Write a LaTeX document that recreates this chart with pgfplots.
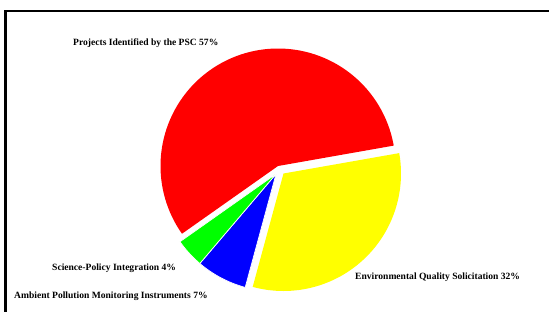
\documentclass[border=0pt]{standalone}
\usepackage{fontspec}
\setmainfont{Liberation Serif}
\usepackage{pgfplots}
\pgfplotsset{compat=1.18}
\definecolor{pieRed}{RGB}{255,0,0}
\definecolor{pieYellow}{RGB}{255,255,0}
\definecolor{pieBlue}{RGB}{0,0,255}
\definecolor{pieGreen}{RGB}{0,255,0}
% slice shares (percent), clockwise from the start angle
\def\vR{57}\def\vY{32}\def\vB{7}\def\vG{4}
\def\startangle{215.2}
\def\rad{117.5}
\pgfmathsetmacro{\aRe}{\startangle}
\pgfmathsetmacro{\aRs}{\aRe-\vR*3.6}
\pgfmathsetmacro{\aYs}{\aRs-\vY*3.6}
\pgfmathsetmacro{\aBs}{\aYs-\vB*3.6}
\pgfmathsetmacro{\aGs}{\aBs-\vG*3.6}
\tikzset{lbl/.style={anchor=west, inner sep=0pt, font=\bfseries\fontsize{9.6}{11}\selectfont}}
\begin{document}
\begin{tikzpicture}
\begin{axis}[
  at={(0,0)}, anchor=south west,
  width=549bp, height=312bp, scale only axis,
  xmin=0, xmax=549, ymin=0, ymax=312, y dir=reverse,
  hide axis, clip=false,
]
% red: Projects Identified by the PSC
\addplot[fill=pieRed, draw=none, domain=\aRs:\aRe, samples=120]
  ({278+\rad*cos(x)},{166-\rad*sin(x)}) -- (axis cs:278,166) -- cycle;
% yellow: Environmental Quality Solicitation
\addplot[fill=pieYellow, draw=none, domain=\aYs:\aRs, samples=100]
  ({283.5+\rad*cos(x)},{173.5-\rad*sin(x)}) -- (axis cs:283.5,173.5) -- cycle;
% blue: Ambient Pollution Monitoring Instruments
\addplot[fill=pieBlue, draw=white, line width=0.7bp, domain=\aBs:\aYs, samples=40]
  ({276+\rad*cos(x)},{174-\rad*sin(x)}) -- (axis cs:276,174) -- cycle;
% green: Science-Policy Integration
\addplot[fill=pieGreen, draw=white, line width=0.7bp, domain=\aGs:\aBs, samples=30]
  ({276+\rad*cos(x)},{174-\rad*sin(x)}) -- (axis cs:276,174) -- cycle;
% labels
\node[lbl] at (axis cs:73,43.5) {Projects Identified by the PSC 57\%};
\node[lbl] at (axis cs:52,268) {Science-Policy Integration 4\%};
\node[lbl] at (axis cs:14,296) {Ambient Pollution Monitoring Instruments 7\%};
\node[lbl] at (axis cs:355,277.7) {Environmental Quality Solicitation 32\%};
% frame
\draw[line width=2.2bp, black] (axis cs:5.5,330) -- (axis cs:5.5,11.2) -- (axis cs:560,11.2);
\end{axis}
\pgfresetboundingbox
\path (0,0) rectangle (549bp,312bp);
\end{tikzpicture}
\end{document}
